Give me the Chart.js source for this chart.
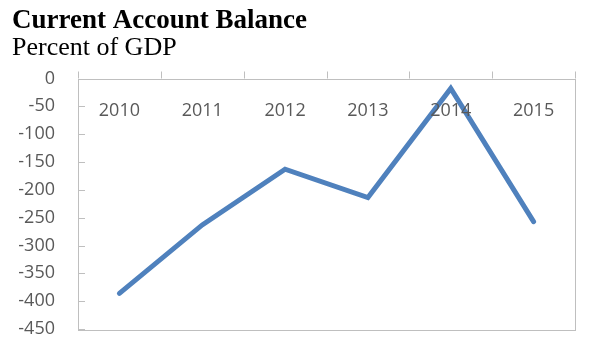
<!DOCTYPE html>
<html>
<head>
<meta charset="utf-8">
<script src="https://cdn.jsdelivr.net/npm/chart.js@4/dist/chart.umd.min.js"></script>
<style>
  html, body { margin: 0; padding: 0; background: #fff; }
  #wrap { width: 594px; height: 341px; position: relative; }
</style>
</head>
<body>
<div id="wrap"><canvas id="mycanvas"></canvas></div>
<script>
var years = ["2010", "2011", "2012", "2013", "2014", "2015"];
var balance = [-386, -263, -163, -214, -18, -257];
var yMin = -450, yMax = 0, yStep = 50;

var axisGray = '#bfbfbf';
var textGray = '#595959';

// frame, inside y ticks, top category ticks and the year labels under the 0 line
var framePlugin = {
  id: 'frame',
  afterDraw: function(chart) {
    var ctx = chart.ctx, a = chart.chartArea;
    var x = chart.scales.x, y = chart.scales.y;
    ctx.save();
    ctx.strokeStyle = axisGray;
    ctx.lineWidth = 1;
    ctx.strokeRect(Math.round(a.left) + 0.5, Math.round(a.top) + 0.5,
      Math.round(a.right - a.left), Math.round(a.bottom - a.top));
    ctx.beginPath();
    y.ticks.forEach(function(t) {
      var py = Math.round(y.getPixelForValue(t.value)) + 0.5;
      ctx.moveTo(a.left, py);
      ctx.lineTo(a.left + 7, py);
    });
    var half = (x.getPixelForValue(1) - x.getPixelForValue(0)) / 2;
    for (var i = 0; i <= years.length; i++) {
      var px = Math.round(x.getPixelForValue(i) - half) + 0.5;
      ctx.moveTo(px, a.top);
      ctx.lineTo(px, a.top - 7);
    }
    ctx.stroke();
    ctx.fillStyle = textGray;
    ctx.font = '18px "Open Sans"';
    ctx.textAlign = 'center';
    ctx.textBaseline = 'middle';
    years.forEach(function(lbl, i) {
      ctx.fillText(lbl, x.getPixelForValue(i), a.top + 32);
    });
    ctx.restore();
  }
};

var ctx = document.getElementById('mycanvas');
var chart = new Chart(ctx, {
  type: 'line',
  data: {
    labels: years,
    datasets: [{
      label: 'Current Account Balance',
      data: balance,
      borderColor: '#4f81bd',
      backgroundColor: '#4f81bd',
      borderWidth: 5,
      borderCapStyle: 'round',
      borderJoinStyle: 'miter',
      pointRadius: 0,
      tension: 0,
      fill: false
    }]
  },
  options: {
    responsive: true,
    maintainAspectRatio: false,
    animation: false,
    layout: { padding: { left: 12, right: 19, bottom: 12, top: 0 } },
    plugins: {
      legend: { display: false },
      tooltip: { enabled: false },
      title: {
        display: true,
        text: 'Current Account Balance',
        align: 'start',
        color: '#000',
        font: { family: '"Liberation Serif", "Times New Roman", serif', size: 27, weight: 'bold', lineHeight: 1 },
        padding: { top: 7.5, bottom: 0 }
      },
      subtitle: {
        display: true,
        text: 'Percent of GDP',
        align: 'start',
        color: '#000',
        font: { family: '"Liberation Serif", "Times New Roman", serif', size: 26, weight: 'normal', lineHeight: 1 },
        padding: { top: 1, bottom: 17 }
      }
    },
    scales: {
      x: {
        display: false,
        offset: true
      },
      y: {
        min: yMin,
        max: yMax,
        afterFit: function(s) {
          s.width = 66;
          s.paddingTop = 0;
          s.paddingBottom = 0;
        },
        ticks: {
          stepSize: yStep,
          color: textGray,
          padding: 23,
          font: { family: '"Open Sans"', size: 18 }
        },
        grid: { display: false, drawTicks: false },
        border: { display: false }
      }
    }
  },
  plugins: [framePlugin]
});
</script>
</body>
</html>
